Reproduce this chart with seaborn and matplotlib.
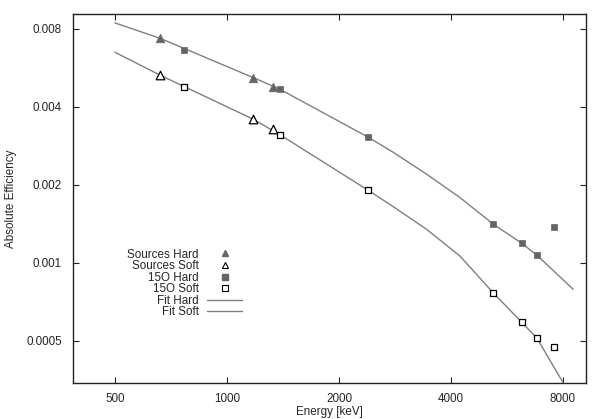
import numpy as np
import pandas as pd
import matplotlib
matplotlib.use("Agg")
import matplotlib.pyplot as plt
import seaborn as sns
from matplotlib.ticker import FixedLocator, FixedFormatter, NullLocator
from matplotlib.lines import Line2D

# ---------------- data ----------------
src_energy = [662, 1173, 1332]
src_hard = [0.00734, 0.00518, 0.00477]
src_soft = [0.00529, 0.00358, 0.00327]

o15_energy = [766, 1388, 2389, 5198, 6196, 6811, 7580]
o15_hard = [0.00662, 0.00467, 0.00306, 0.00141, 0.00119, 0.00107, 0.00137]
o15_soft = [0.00477, 0.00312, 0.00191, 0.000766, 0.000590, 0.000512, 0.000474]

fit_hard_energy = [500, 662, 1177, 1388, 2389, 2800, 3442, 4229, 5198, 6196, 6811, 8527]
fit_hard_eff = [0.00842, 0.00734, 0.00518, 0.00467, 0.00306, 0.002667, 0.002197, 0.001785,
                0.00141, 0.00119, 0.00107, 0.000790]
fit_soft_energy = [500, 662, 1177, 1388, 2389, 2800, 3442, 4229, 5198, 6196, 6811, 8015]
fit_soft_eff = [0.00649, 0.00529, 0.00358, 0.00312, 0.00191, 0.001646, 0.001346, 0.001062,
                0.000766, 0.000590, 0.000512, 0.000344]

x_ticks = [500, 1000, 2000, 4000, 8000]
x_labels = ["500", "1000", "2000", "4000", "8000"]
y_ticks = [0.0005, 0.001, 0.002, 0.004, 0.008]
y_labels = ["0.0005", "0.001", "0.002", "0.004", "0.008"]

# ---------------- style ----------------
sns.set_style("ticks")
plt.rcParams["font.family"] = ["Liberation Sans", "DejaVu Sans"]
FS = 8.4
plt.rcParams["font.size"] = FS

GRAY = "#656565"
LINE = "#7f7f7f"

fig = plt.figure(figsize=(5.98, 4.19), dpi=100)
ax = fig.add_axes([73 / 598, 1 - 383 / 419, (586 - 73) / 598, (383 - 14) / 419])

df_fh = pd.DataFrame({"E": fit_hard_energy, "eff": fit_hard_eff})
df_fs = pd.DataFrame({"E": fit_soft_energy, "eff": fit_soft_eff})
sns.lineplot(data=df_fh, x="E", y="eff", ax=ax, color=LINE, lw=1.0, sort=False, estimator=None)
sns.lineplot(data=df_fs, x="E", y="eff", ax=ax, color=LINE, lw=1.0, sort=False, estimator=None)

sns.scatterplot(x=src_energy, y=src_hard, ax=ax, marker="^", s=38, color=GRAY, edgecolor=GRAY, linewidth=0.5, zorder=3)
sns.scatterplot(x=src_energy, y=src_soft, ax=ax, marker="^", s=38, facecolor="white", edgecolor="black", linewidth=0.9, zorder=3)
sns.scatterplot(x=o15_energy, y=o15_hard, ax=ax, marker="s", s=24, color=GRAY, edgecolor=GRAY, linewidth=0.5, zorder=3)
sns.scatterplot(x=o15_energy, y=o15_soft, ax=ax, marker="s", s=24, facecolor="white", edgecolor="black", linewidth=0.9, zorder=3)

ax.set_xscale("log")
ax.set_yscale("log")
ax.set_xlim(386, 9225)
ax.set_ylim(0.000344, 0.00911)

ax.xaxis.set_major_locator(FixedLocator(x_ticks))
ax.xaxis.set_major_formatter(FixedFormatter(x_labels))
ax.xaxis.set_minor_locator(NullLocator())
ax.yaxis.set_major_locator(FixedLocator(y_ticks))
ax.yaxis.set_major_formatter(FixedFormatter(y_labels))
ax.yaxis.set_minor_locator(NullLocator())

ax.tick_params(which="both", direction="in", top=True, right=True, length=4, width=0.8, color="#222222", labelsize=FS)
ax.tick_params(axis="y", pad=8)
ax.tick_params(axis="x", pad=7)
for sp in ax.spines.values():
    sp.set_visible(True)
    sp.set_color("#222222")
    sp.set_linewidth(1.0)

ax.set_xlabel("Energy [keV]", fontsize=FS, labelpad=1)
ax.set_ylabel("Absolute Efficiency", fontsize=FS, labelpad=6.5)

handles = [
    Line2D([], [], ls="none", marker="^", ms=5, mfc=GRAY, mec=GRAY),
    Line2D([], [], ls="none", marker="^", ms=5, mfc="white", mec="black", mew=0.8),
    Line2D([], [], ls="none", marker="s", ms=3.8, mfc=GRAY, mec=GRAY),
    Line2D([], [], ls="none", marker="s", ms=3.8, mfc="white", mec="black", mew=0.8),
    Line2D([], [], color=LINE, lw=1.0),
    Line2D([], [], color=LINE, lw=1.0),
]
labels = ["Sources Hard", "Sources Soft", "15O Hard", "15O Soft", "Fit Hard", "Fit Soft"]
leg = ax.legend(handles, labels, loc="upper right", bbox_to_anchor=(242 / 598, 1 - 248.5 / 419),
                bbox_transform=fig.transFigure, frameon=False, markerfirst=False,
                handlelength=3.0, handletextpad=0.7, labelspacing=-0.035, borderpad=0,
                borderaxespad=0, fontsize=FS)

ax.set_facecolor("white")
fig.patch.set_facecolor("white")
fig.savefig("out.png", dpi=100)
